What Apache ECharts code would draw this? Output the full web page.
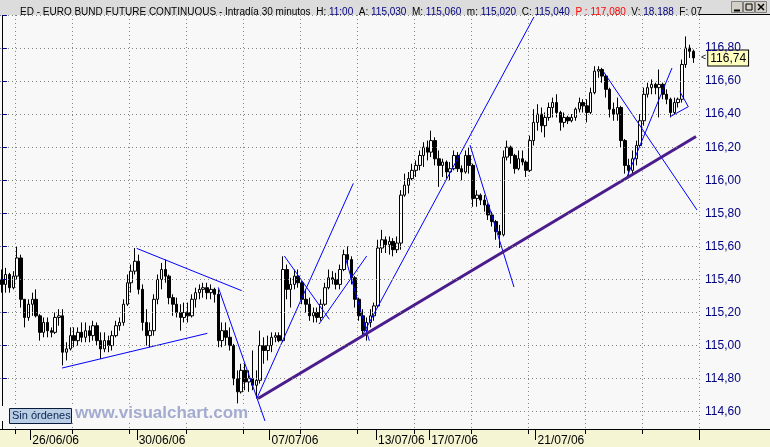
<!DOCTYPE html>
<html><head><meta charset="utf-8">
<script src="https://cdn.jsdelivr.net/npm/echarts@6/dist/echarts.min.js"></script>
<style>html,body{margin:0;padding:0;background:#f8f8f8}#c{width:770px;height:447px}</style>
</head><body><div id="c"></div>
<script>
// ---- data (30-minute bars aggregated, EURO BUND FUTURE) ----
const N = 184;
const openP = [115.40,115.37,115.43,115.35,115.42,115.53,115.28,115.17,115.25,115.28,115.18,115.08,115.14,115.09,115.08,115.17,115.18,114.96,114.98,115.06,
115.03,115.08,115.05,115.09,115.06,115.12,115.03,114.98,115.03,115.00,115.06,115.12,115.14,115.25,115.38,115.45,115.51,115.34,115.14,115.06,
115.09,115.28,115.40,115.46,115.42,115.29,115.25,115.20,115.17,115.20,115.18,115.28,115.32,115.34,115.35,115.32,115.34,115.31,115.03,115.09,
115.05,115.00,114.80,114.72,114.85,114.78,114.80,114.76,114.79,115.00,114.97,115.00,115.05,115.06,115.03,115.46,115.34,115.37,115.42,115.38,
115.28,115.25,115.18,115.20,115.17,115.25,115.35,115.41,115.40,115.37,115.46,115.55,115.52,115.41,115.28,115.18,115.09,115.14,115.18,115.24,
115.59,115.64,115.61,115.63,115.58,115.62,115.91,115.97,116.01,116.06,116.09,116.15,116.20,116.17,116.24,116.13,116.09,116.11,116.05,116.07,
116.15,116.07,116.05,116.15,116.09,115.89,115.91,115.88,115.85,115.79,115.75,115.69,115.67,116.14,116.20,116.15,116.07,116.13,116.11,116.06,
116.24,116.35,116.40,116.33,116.38,116.44,116.47,116.41,116.35,116.38,116.36,116.38,116.43,116.47,116.45,116.41,116.53,116.66,116.67,116.63,
116.55,116.43,116.40,116.44,116.24,116.09,116.06,116.13,116.21,116.36,116.52,116.56,116.58,116.56,116.58,116.52,116.49,116.41,116.47,116.49,
116.70,116.80,116.78];
const closeP = [115.37,115.43,115.35,115.42,115.53,115.28,115.17,115.25,115.28,115.18,115.08,115.14,115.09,115.08,115.17,115.18,114.96,114.98,115.06,115.03,
115.08,115.05,115.09,115.06,115.12,115.03,114.98,115.03,115.00,115.06,115.12,115.14,115.25,115.38,115.45,115.51,115.34,115.14,115.06,115.09,
115.28,115.40,115.46,115.42,115.29,115.25,115.20,115.17,115.20,115.18,115.28,115.32,115.34,115.35,115.32,115.34,115.31,115.03,115.09,115.05,
115.00,114.80,114.72,114.85,114.78,114.80,114.76,114.79,115.00,114.97,115.00,115.05,115.06,115.03,115.46,115.34,115.37,115.42,115.38,115.28,
115.25,115.18,115.20,115.17,115.25,115.35,115.41,115.40,115.37,115.46,115.55,115.52,115.41,115.28,115.18,115.09,115.14,115.18,115.24,115.59,
115.64,115.61,115.63,115.58,115.62,115.91,115.97,116.01,116.06,116.09,116.15,116.20,116.17,116.24,116.13,116.09,116.11,116.05,116.07,116.15,
116.07,116.05,116.15,116.09,115.89,115.91,115.88,115.85,115.79,115.75,115.69,115.67,116.14,116.20,116.15,116.07,116.13,116.11,116.06,116.24,
116.35,116.40,116.33,116.38,116.44,116.47,116.41,116.35,116.38,116.36,116.38,116.43,116.47,116.45,116.41,116.53,116.66,116.67,116.63,116.55,
116.43,116.40,116.44,116.24,116.09,116.06,116.13,116.21,116.36,116.52,116.56,116.58,116.56,116.58,116.52,116.49,116.41,116.47,116.49,116.70,
116.80,116.78,116.74];
const lowP = [115.32,115.32,115.32,115.34,115.40,115.23,115.11,115.15,115.18,115.17,115.03,115.05,115.05,115.05,115.07,115.12,114.88,114.91,114.97,114.99,
115.00,115.02,115.02,115.02,115.03,115.00,114.92,114.96,114.96,114.97,115.05,115.09,115.12,115.24,115.32,115.43,115.31,115.09,115.00,114.99,
115.06,115.25,115.34,115.38,115.25,115.18,115.17,115.09,115.14,115.14,115.17,115.23,115.28,115.29,115.28,115.28,115.26,114.99,114.99,115.00,
114.97,114.76,114.65,114.71,114.73,114.72,114.73,114.68,114.77,114.89,114.91,114.96,115.02,115.02,115.02,115.28,115.23,115.34,115.35,115.25,
115.20,115.15,115.14,115.14,115.15,115.24,115.34,115.37,115.34,115.34,115.45,115.49,115.37,115.23,115.15,115.06,115.03,115.11,115.15,115.23,
115.56,115.56,115.55,115.54,115.56,115.58,115.90,115.92,116.00,116.02,116.06,116.08,116.12,116.14,116.09,115.96,116.02,116.01,116.00,116.06,
116.05,116.00,116.04,116.04,115.84,115.84,115.85,115.81,115.76,115.72,115.64,115.59,115.66,116.12,116.10,116.04,116.06,116.09,116.02,116.05,
116.21,116.30,116.29,116.26,116.36,116.38,116.38,116.30,116.32,116.34,116.35,116.36,116.41,116.41,116.35,116.40,116.52,116.62,116.59,116.50,
116.38,116.36,116.36,116.20,116.04,116.02,116.03,116.09,116.20,116.33,116.50,116.52,116.52,116.38,116.49,116.46,116.38,116.40,116.44,116.47,
116.68,116.74,116.71];
const highP = [115.46,115.47,115.44,115.45,115.60,115.55,115.28,115.28,115.32,115.34,115.19,115.17,115.17,115.11,115.20,115.22,115.22,115.02,115.11,115.11,
115.11,115.14,115.14,115.12,115.15,115.14,115.08,115.08,115.06,115.09,115.15,115.17,115.28,115.43,115.49,115.59,115.55,115.37,115.22,115.14,
115.31,115.43,115.50,115.52,115.43,115.31,115.29,115.25,115.26,115.26,115.31,115.35,115.37,115.38,115.38,115.37,115.35,115.34,115.14,115.14,
115.11,115.01,114.85,114.89,114.89,114.85,114.97,114.85,115.09,115.05,115.06,115.08,115.08,115.08,115.54,115.49,115.41,115.46,115.46,115.39,
115.34,115.29,115.23,115.23,115.28,115.38,115.46,115.45,115.44,115.49,115.58,115.60,115.54,115.42,115.29,115.22,115.17,115.22,115.26,115.64,
115.70,115.66,115.66,115.65,115.66,115.94,116.04,116.05,116.10,116.12,116.18,116.23,116.24,116.30,116.26,116.18,116.13,116.12,116.11,116.18,
116.17,116.09,116.18,116.20,116.10,115.94,115.92,115.91,115.86,115.81,115.76,115.73,116.18,116.24,116.21,116.16,116.18,116.18,116.12,116.27,
116.43,116.46,116.44,116.41,116.47,116.50,116.52,116.42,116.41,116.39,116.40,116.44,116.50,116.49,116.49,116.56,116.69,116.69,116.68,116.64,
116.56,116.47,116.50,116.45,116.25,116.13,116.18,116.24,116.40,116.56,116.59,116.61,116.59,116.67,116.59,116.55,116.50,116.50,116.50,116.73,
116.87,116.82,116.79];

// trend lines: [barIndex, price] end points
const trendLines = [
  [[15.82,114.864],[54.07,115.074]],
  [[35.48,115.588],[63.12,115.332]],
  [[56.96,115.352],[69.25,114.544]],
  [[67.15,114.683],[92.50,115.981]],
  [[74.34,115.542],[86.18,115.159]],
  [[83.47,115.130],[96.03,115.542]],
  [[90.58,115.518],[96.71,115.029]],
  [[94.52,115.046],[140.06,116.988]],
  [[123.22,116.213],[134.80,115.354]],
  [[158.23,116.661],[182.97,115.820]],
  [[164.54,116.020],[176.39,116.679]],
  [[175.86,116.384],[180.68,116.445]],
  [[178.49,116.536],[180.68,116.445]]
];
const mainTrend = [[67.41,114.680],[182.71,116.265]];

const dateLabels = ['26/06/06','30/06/06','07/07/06','13/07/06','17/07/06','21/07/06'];
const dateIdx = [8,36,71,99,113,141];
const gridFirst = 4, gridStep = 15;
const yMin = 114.4, yMax = 117.0, yStep = 0.2;

const headerParts = [
  ['k','ED - EURO BUND FUTURE CONTINUOUS - Intradía 30 minutos  H: '],['v','11:00'],
  ['k','  A: '],['v','115,030'],['k','  M: '],['v','115,060'],['k','  m: '],['v','115,020'],
  ['k','  C: '],['v','115,040'],['r','  P : 117,080'],['k','  V: '],['v','18.188'],['k','  F: 07']
];

// ---- build ----
const categories = Array.from({length: N}, (_, i) => String(i));
const candles = openP.map((o, i) => [o, closeP[i], lowP[i], highP[i]]);
const lastClose = closeP[closeP.length - 1];
const fmt = v => v.toFixed(2).replace('.', ',');
const isGrid = i => i >= gridFirst && (i - gridFirst) % gridStep === 0;
const isDate = i => dateIdx.indexOf(i) >= 0;
const FONT = 'Liberation Sans';

const titleText = headerParts.map(p => '{' + p[0] + '|' + p[1] + '}').join('');
const rs = c => ({color: c, fontSize: 10, fontFamily: FONT});

const series = [{
  type: 'candlestick', xAxisIndex: 0, yAxisIndex: 0, data: candles, barWidth: 3,
  itemStyle: {color: '#ffffff', color0: '#000000', borderColor: '#000000', borderColor0: '#000000', borderWidth: 1},
  markLine: {
    silent: true, symbol: ['none', 'none'], animation: false,
    lineStyle: {color: 'rgba(0,0,0,0)', width: 1, type: 'solid'},
    data: [{yAxis: lastClose}],
    label: {show: true, position: 'end', distance: 2, formatter: () => '{a|<}{b|' + fmt(lastClose) + '}',
      rich: {
        a: {color: '#000', fontSize: 9, fontFamily: FONT, padding: [0, 2, 0, 0]},
        b: {backgroundColor: '#ffffc0', borderColor: '#000', borderWidth: 1, padding: [2, 2, 1, 2],
          color: '#000', fontSize: 12, fontFamily: FONT}
      }}
  }
}];
trendLines.forEach(seg => series.push({
  type: 'line', xAxisIndex: 1, yAxisIndex: 0, data: seg, symbol: 'none',
  lineStyle: {color: '#0000ff', width: 1}, z: 3
}));
series.push({type: 'line', xAxisIndex: 1, yAxisIndex: 0, data: mainTrend, symbol: 'none',
  lineStyle: {color: '#4b1c8c', width: 3}, z: 4});

const chart = echarts.init(document.getElementById('c'), null, {renderer: 'canvas'});
chart.setOption({
  animation: false,
  backgroundColor: '#f8f8f8',
  textStyle: {fontFamily: FONT},
  title: {left: 15, top: 2, z: 30, text: titleText, itemGap: 0,
    textStyle: {fontSize: 10, fontFamily: FONT, fontWeight: 'normal', rich: {k: rs('#000000'), v: rs('#000080'), r: rs('#ff0000')}}},
  grid: [
    {left: 0, right: 71, top: 14.94, bottom: 2.24},
    {left: 0, right: 71, top: 429, height: 1}
  ],
  xAxis: [
    {type: 'category', gridIndex: 0, data: categories, boundaryGap: true,
      axisLine: {show: false}, axisTick: {show: false}, axisLabel: {show: false},
      splitLine: {show: true, interval: isGrid, lineStyle: {color: '#808080', type: [1, 3], width: 1}}},
    {type: 'value', gridIndex: 0, min: -0.5, max: N - 0.5, show: false},
    {type: 'category', gridIndex: 1, data: categories, position: 'bottom', z: 40,
      axisLine: {show: false}, axisLabel: {show: false}, splitLine: {show: false},
      axisTick: {show: true, interval: isGrid, length: 4, lineStyle: {color: '#000'}}},
    {type: 'category', gridIndex: 1, data: categories, position: 'bottom', z: 40,
      axisLine: {show: false}, splitLine: {show: false},
      axisTick: {show: true, interval: isDate, length: 10, lineStyle: {color: '#000'}},
      axisLabel: {show: true, interval: isDate, formatter: (v, i) => dateLabels[dateIdx.indexOf(Number(v))] || '',
        align: 'left', margin: 5, color: '#000', fontSize: 12, fontFamily: FONT}}
  ],
  yAxis: [
    {type: 'value', gridIndex: 0, position: 'right', min: yMin, max: yMax, interval: yStep, z: 5,
      axisLine: {show: true, lineStyle: {color: '#000', width: 1}},
      axisTick: {show: true, length: 5, lineStyle: {color: '#000080'}},
      axisLabel: {color: '#000080', fontSize: 12, fontFamily: FONT, margin: 6,
        formatter: v => (v < yMin + 0.05 || v > yMax - 0.05) ? '' : fmt(v)},
      splitLine: {show: true, lineStyle: {color: '#808080', type: [1, 3], width: 1}}},
    {type: 'value', gridIndex: 1, show: false}
  ],
  graphic: [
    {type: 'rect', z: 20, shape: {x: 0, y: 0, width: 770, height: 15}, style: {fill: '#dcdcdc'}},
    {type: 'line', z: 21, shape: {x1: 699, y1: 14.5, x2: 770, y2: 14.5}, style: {stroke: '#000', lineWidth: 1}},
    {type: 'rect', z: 21, shape: {x: 731.5, y: 1.5, width: 11, height: 11}, style: {fill: '#d4d0c8', stroke: '#808080', lineWidth: 1}},
    {type: 'rect', z: 21, shape: {x: 743.5, y: 1.5, width: 11, height: 11}, style: {fill: '#d4d0c8', stroke: '#808080', lineWidth: 1}},
    {type: 'rect', z: 21, shape: {x: 755.5, y: 1.5, width: 11, height: 11}, style: {fill: '#d4d0c8', stroke: '#808080', lineWidth: 1}},
    {type: 'line', z: 22, shape: {x1: 734, y1: 10.5, x2: 740, y2: 10.5}, style: {stroke: '#000', lineWidth: 2}},
    {type: 'rect', z: 22, shape: {x: 746, y: 4, width: 6, height: 6}, style: {fill: 'none', stroke: '#000', lineWidth: 1}},
    {type: 'line', z: 22, shape: {x1: 758, y1: 4, x2: 764, y2: 10}, style: {stroke: '#000', lineWidth: 1.5}},
    {type: 'line', z: 22, shape: {x1: 764, y1: 4, x2: 758, y2: 10}, style: {stroke: '#000', lineWidth: 1.5}},
    {type: 'rect', z: 20, shape: {x: 0, y: 429, width: 770, height: 18}, style: {fill: '#f5f5d3'}},
    {type: 'line', z: 21, shape: {x1: 0, y1: 429.5, x2: 770, y2: 429.5}, style: {stroke: '#000', lineWidth: 1}},
    {type: 'rect', z: 6, shape: {x: 0, y: 406, width: 247, height: 15}, style: {fill: '#f8f8f8'}},
    {type: 'rect', z: 7, shape: {x: 9.5, y: 408.5, width: 62, height: 15}, style: {fill: '#b9cde5', stroke: '#0a1a3a', lineWidth: 1}},
    {type: 'text', z: 8, x: 12, y: 410, style: {text: 'Sin órdenes', fill: '#0a2450', font: '11px "Liberation Sans"'}},
    {type: 'text', z: 8, x: 75, y: 405, style: {text: 'www.visualchart.com', fill: '#a3abcf', font: 'bold 17px "Liberation Sans"'}}
  ],
  series: series
});
</script></body></html>
